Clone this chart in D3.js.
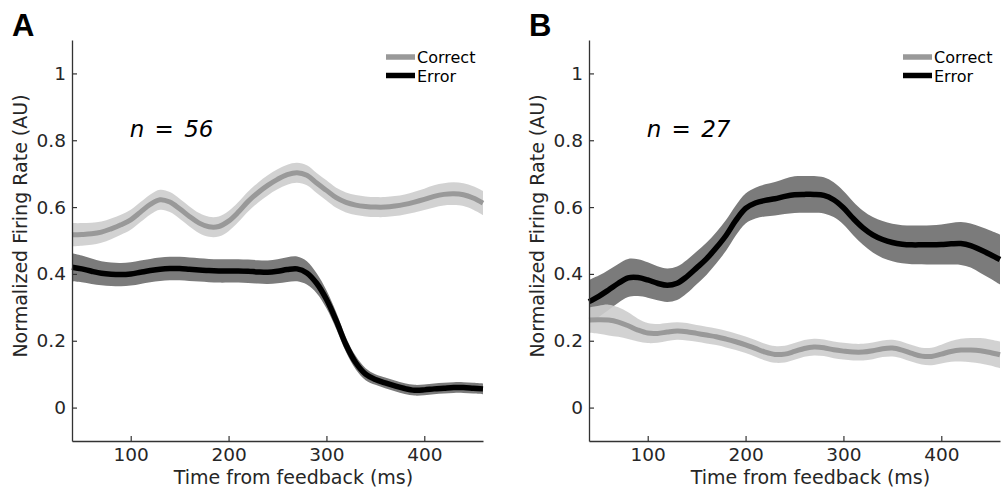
<!DOCTYPE html>
<html>
<head>
<meta charset="utf-8">
<script src="https://cdn.jsdelivr.net/npm/d3@7"></script>
<style>
  body { margin: 0; background: #fff; }
  svg { display: block; font-family: "DejaVu Sans", Verdana, sans-serif; }
</style>
</head>
<body>
<script>
// time axis (ms from feedback), one sample every 10 ms
var times = [40,50,60,70,80,90,100,110,120,130,140,150,160,170,180,190,200,210,220,230,240,250,
             260,270,280,290,300,310,320,330,340,350,360,370,380,390,400,410,420,430,440,450,460];

// panel A, n = 56
var correctA = [0.517,0.518,0.520,0.525,0.535,0.547,0.562,0.585,0.608,0.622,0.615,0.595,0.572,0.552,0.541,
                0.542,0.558,0.585,0.617,0.643,0.665,0.683,0.697,0.703,0.695,0.672,0.650,0.628,0.614,0.606,
                0.602,0.600,0.600,0.603,0.608,0.615,0.623,0.632,0.638,0.640,0.637,0.627,0.612];
var correctSemA = [0.035,0.034,0.033,0.032,0.031,0.030,0.030,0.030,0.030,0.030,0.030,0.030,0.030,0.030,0.030,
                   0.030,0.030,0.030,0.030,0.030,0.030,0.030,0.030,0.030,0.030,0.030,0.030,0.030,0.030,0.030,
                   0.030,0.030,0.030,0.030,0.030,0.031,0.032,0.033,0.033,0.034,0.034,0.035,0.036];
var errorA = [0.420,0.415,0.408,0.402,0.399,0.398,0.400,0.405,0.410,0.414,0.416,0.416,0.414,0.412,0.410,
              0.409,0.409,0.409,0.408,0.406,0.405,0.408,0.413,0.415,0.403,0.372,0.324,0.260,0.188,0.134,
              0.100,0.084,0.074,0.065,0.057,0.052,0.053,0.056,0.058,0.060,0.060,0.058,0.056];
var errorSemA = [0.042,0.040,0.038,0.036,0.035,0.035,0.035,0.035,0.035,0.035,0.035,0.035,0.035,0.035,0.035,
                 0.035,0.035,0.035,0.035,0.035,0.035,0.036,0.037,0.037,0.035,0.030,0.027,0.025,0.022,0.020,
                 0.018,0.016,0.016,0.016,0.016,0.016,0.016,0.016,0.016,0.016,0.016,0.016,0.016];

// panel B, n = 27
var correctB = [0.262,0.263,0.262,0.256,0.245,0.232,0.223,0.222,0.226,0.229,0.227,0.222,0.217,0.212,0.205,
                0.197,0.188,0.177,0.166,0.159,0.160,0.168,0.177,0.181,0.179,0.173,0.169,0.166,0.166,0.170,
                0.176,0.178,0.172,0.162,0.154,0.153,0.160,0.168,0.172,0.172,0.170,0.165,0.158];
var correctSemB = [0.038,0.042,0.046,0.044,0.040,0.034,0.030,0.028,0.027,0.026,0.026,0.025,0.025,0.025,0.025,
                   0.025,0.025,0.025,0.025,0.025,0.025,0.025,0.025,0.025,0.025,0.025,0.025,0.025,0.025,0.025,
                   0.025,0.025,0.025,0.025,0.025,0.026,0.028,0.031,0.034,0.036,0.038,0.039,0.040];
var errorB = [0.317,0.333,0.352,0.372,0.388,0.389,0.382,0.372,0.366,0.372,0.392,0.418,0.445,0.478,0.515,
              0.560,0.596,0.612,0.620,0.625,0.632,0.637,0.638,0.638,0.635,0.622,0.598,0.566,0.538,0.517,
              0.503,0.494,0.489,0.487,0.487,0.487,0.488,0.490,0.491,0.485,0.472,0.458,0.443];
var errorSemB = [0.065,0.062,0.060,0.058,0.057,0.055,0.053,0.051,0.050,0.050,0.050,0.049,0.048,0.047,0.046,
                 0.045,0.045,0.046,0.048,0.050,0.053,0.055,0.055,0.055,0.054,0.052,0.050,0.050,0.051,0.053,
                 0.055,0.056,0.057,0.058,0.058,0.059,0.060,0.062,0.064,0.066,0.069,0.072,0.075];

var xTicks = [100, 200, 300, 400];
var yTicks = [0, 0.2, 0.4, 0.6, 0.8, 1];
var legendLabels = ["Correct", "Error"];

var W = 1003, H = 488;
var svg = d3.select("body").append("svg").attr("width", W).attr("height", H);

function drawPanel(letter, left, right, nText, correct, correctSem, error, errorSem) {
  var x = d3.scaleLinear().domain([40, 460]).range([left, right]);
  var y = d3.scaleLinear().domain([-0.1, 1.1]).range([441, 40]);
  var g = svg.append("g");

  var band = function(mean, sem) {
    return d3.area()
      .x(function(d, i) { return x(times[i]); })
      .y0(function(d, i) { return y(mean[i] - sem[i]); })
      .y1(function(d, i) { return y(mean[i] + sem[i]); })
      .curve(d3.curveCatmullRom.alpha(0.5))(mean);
  };
  var line = d3.line()
      .x(function(d, i) { return x(times[i]); })
      .y(function(d) { return y(d); })
      .curve(d3.curveCatmullRom.alpha(0.5));

  g.append("path").attr("d", band(error, errorSem)).attr("fill", "#7b7b7b");
  g.append("path").attr("d", band(correct, correctSem)).attr("fill", "#cdcdcd").attr("fill-opacity", 0.9);
  g.append("path").attr("d", line(correct)).attr("fill", "none")
      .attr("stroke", "#999").attr("stroke-width", 5);
  g.append("path").attr("d", line(error)).attr("fill", "none")
      .attr("stroke", "#000").attr("stroke-width", 5.5);

  // axes, ticks pointing inward like matlab
  var ax = g.append("g").attr("transform", "translate(0,441)")
      .call(d3.axisBottom(x).tickValues(xTicks).tickSizeInner(-5).tickSizeOuter(0).tickPadding(7));
  var ay = g.append("g").attr("transform", "translate(" + left + ",0)")
      .call(d3.axisLeft(y).tickValues(yTicks).tickFormat(function(d) { return String(d); })
            .tickSizeInner(-5).tickSizeOuter(0).tickPadding(6));
  [ax, ay].forEach(function(a) {
    a.select(".domain").attr("stroke", "#333").attr("stroke-width", 1.3);
    a.selectAll(".tick line").attr("stroke", "#333").attr("stroke-width", 1.2);
    a.selectAll(".tick text").attr("fill", "#262626")
      .attr("font-family", "DejaVu Sans").attr("font-size", 18.5);
  });

  g.append("text")
      .attr("x", (left + right) / 2 + 16).attr("y", 484)
      .attr("text-anchor", "middle").attr("font-size", 19).attr("fill", "#262626")
      .text("Time from feedback (ms)");
  g.append("text")
      .attr("transform", "translate(" + (left - 45) + ",226) rotate(-90)")
      .attr("text-anchor", "middle").attr("font-size", 19).attr("fill", "#262626")
      .text("Normalized Firing Rate (AU)");

  // panel letter
  g.append("text").attr("x", left - 60).attr("y", 36)
      .attr("font-family", "Liberation Sans, Arial, sans-serif").attr("font-weight", "bold")
      .attr("font-size", 31).attr("fill", "#000").text(letter);

  // n label
  g.append("text").attr("x", x(100) - 1).attr("y", y(0.81))
      .attr("font-style", "italic").attr("font-size", 23).attr("fill", "#000")
      .attr("word-spacing", 3).attr("xml:space", "preserve").text(nText);

  // legend
  var lg = g.selectAll(".lg").data(legendLabels).enter().append("g")
      .attr("transform", function(d, i) { return "translate(" + (right - 97) + "," + (57 + i * 18.5) + ")"; });
  lg.append("line").attr("x1", 0).attr("x2", 29).attr("y1", 0).attr("y2", 0)
      .attr("stroke", function(d, i) { return i === 0 ? "#999" : "#000"; })
      .attr("stroke-width", 5.5);
  lg.append("text").attr("x", 31).attr("y", 6)
      .attr("font-size", 16).attr("fill", "#000").text(function(d) { return d; });
}

drawPanel("A", 72, 483, "n = 56", correctA, correctSemA, errorA, errorSemA);
drawPanel("B", 589, 1000, "n = 27", correctB, correctSemB, errorB, errorSemB);
</script>
</body>
</html>
